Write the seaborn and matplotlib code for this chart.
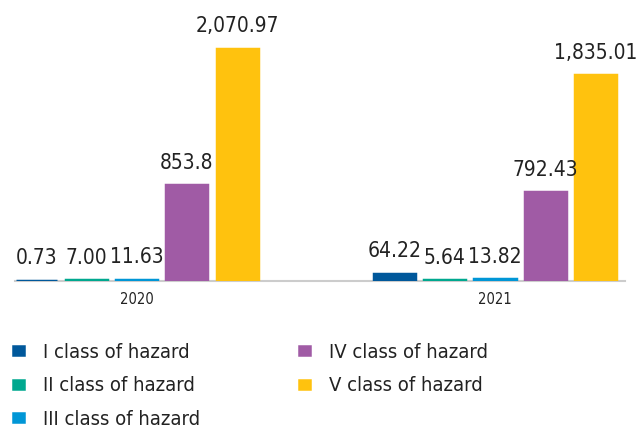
import matplotlib
matplotlib.use('Agg')
import matplotlib.pyplot as plt
import seaborn as sns
import pandas as pd

years = ['2020', '2021']
classes = ['I class of hazard', 'II class of hazard', 'III class of hazard',
           'IV class of hazard', 'V class of hazard']
vals_2020 = [0.73, 7.00, 11.63, 853.8, 2070.97]
vals_2021 = [64.22, 5.64, 13.82, 792.43, 1835.01]
labels_2020 = ['0.73', '7.00', '11.63', '853.8', '2,070.97']
labels_2021 = ['64.22', '5.64', '13.82', '792.43', '1,835.01']
colors = ['#00589b', '#00a88f', '#0096d6', '#a05ba5', '#ffc20e']

df = pd.DataFrame({'Year': [years[0]] * 5 + [years[1]] * 5,
                   'Class': classes * 2,
                   'Value': vals_2020 + vals_2021})

sns.set_style('white')
plt.rcParams['font.family'] = ['DejaVu Sans']
plt.rcParams['font.stretch'] = 'condensed'

fig = plt.figure(figsize=(6.39, 4.30), dpi=100)
ax = fig.add_axes([15 / 639, (430 - 281) / 430, 610 / 639, 271 / 430])
sns.barplot(data=df, x='Year', y='Value', hue='Class', hue_order=classes,
            palette=colors, width=0.7, gap=0.18, ax=ax, legend=True,
            linewidth=2.5, saturation=1, zorder=3)

# edge same colour as face so tiny bars still show up
for i, cont in enumerate(ax.containers):
    for p in cont.patches:
        p.set_edgecolor(colors[i])
    ax.bar_label(cont, labels=[labels_2020[i], labels_2021[i]], padding=9,
                 fontsize=15, color='#222222')

ax.set_xlim(-0.34, 1.363)
ax.set_ylim(0, 2419)
ax.set_xlabel('')
ax.set_ylabel('')
ax.set_yticks([])
ax.tick_params(axis='x', length=0, labelsize=10.5, colors='#222222', pad=8)
for s in ['top', 'right', 'left']:
    ax.spines[s].set_visible(False)
ax.spines['bottom'].set_color('#cccccc')
ax.spines['bottom'].set_linewidth(1.5)
ax.spines['bottom'].set_zorder(1)

h, l = ax.get_legend_handles_labels()
ax.get_legend().remove()
fig.legend(h, l, ncol=2, loc='upper left', bbox_to_anchor=(-0.012, 0.245),
           frameon=False, fontsize=14.5, handlelength=0.8, handleheight=0.8,
           handletextpad=0.8, columnspacing=4.8, labelspacing=0.72,
           labelcolor='#222222')

fig.savefig('out.png', dpi=100)
